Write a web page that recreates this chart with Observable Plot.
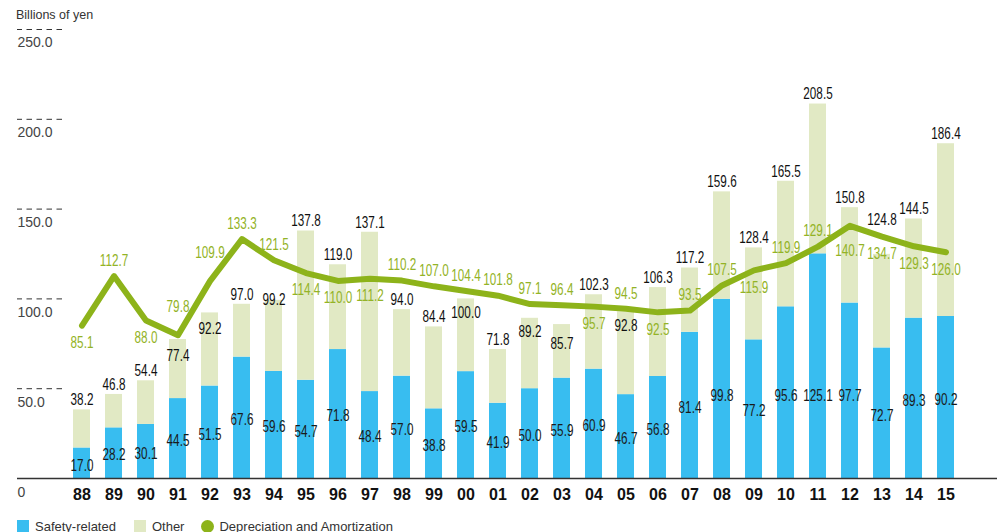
<!DOCTYPE html>
<html><head><meta charset="utf-8">
<script src="https://cdn.jsdelivr.net/npm/d3@7"></script>
<script src="https://cdn.jsdelivr.net/npm/@observablehq/plot@0.6"></script>
<style>
body{margin:0;background:#fff;font-family:"Liberation Sans",Arial,sans-serif;}
#title{height:28px;line-height:30px;padding-left:16px;font-size:12.5px;color:#333;}
#chart svg{display:block;}
#legend{display:flex;align-items:center;margin-top:3px;height:18px;font-size:13px;color:#333;padding-left:17px;white-space:nowrap;}
#legend .sw{display:inline-block;width:12px;height:12px;margin-right:6px;}
#legend .dot{display:inline-block;width:13px;height:13px;border-radius:50%;margin-right:5px;}
</style></head>
<body>
<div id="title">Billions of yen</div>
<div id="chart"></div>
<div id="legend">
  <span class="sw" style="background:#38BDF0"></span><span style="margin-right:18px">Safety-related</span>
  <span class="sw" style="background:#E1E9C4"></span><span style="margin-right:17px">Other</span>
  <span class="dot" style="background:#8DB31A"></span><span>Depreciation and Amortization</span>
</div>
<script>
const years = ["88","89","90","91","92","93","94","95","96","97","98","99","00","01","02","03","04","05","06","07","08","09","10","11","12","13","14","15"];
const safety = [17.0,28.2,30.1,44.5,51.5,67.6,59.6,54.7,71.8,48.4,57.0,38.8,59.5,41.9,50.0,55.9,60.9,46.7,56.8,81.4,99.8,77.2,95.6,125.1,97.7,72.7,89.3,90.2];
const totals = [38.2,46.8,54.4,77.4,92.2,97.0,99.2,137.8,119.0,137.1,94.0,84.4,100.0,71.8,89.2,85.7,102.3,92.8,106.3,117.2,159.6,128.4,165.5,208.5,150.8,124.8,144.5,186.4];
const depreciation = [85.1,112.7,88.0,79.8,109.9,133.3,121.5,114.4,110.0,111.2,110.2,107.0,104.4,101.8,97.1,96.4,95.7,94.5,92.5,93.5,107.5,115.9,119.9,129.1,140.7,134.7,129.3,126.0];
const yTicks = [50,100,150,200,250];

// label placement (layout only)
const depLabelSide = ["b","a","b","A","A","a","a","b","b","b","a","a","a","a","a","a","b","a","b","a","a","b","a","a","B","b","b","b"];
const sideDy = {a:-15.5, A:-28, b:17, B:25};
const totalNudge = {"91":16,"92":16,"94":-1,"00":14,"02":13,"03":19,"05":14,"13":-35};

const BLUE = "#38BDF0", LIGHT = "#E1E9C4", GREEN = "#8DB31A", GTEXT = "#93B326";
const numFont = '"Liberation Sans",Arial,sans-serif';
const NUM_SIZE = 16.5;
const f1 = d3.format(".1f");

const stacked = [];
years.forEach((y,i)=>stacked.push({year:y, type:"Safety-related", value:safety[i]}));
years.forEach((y,i)=>stacked.push({year:y, type:"Other", value:+(totals[i]-safety[i]).toFixed(1)}));
const rows = years.map((y,i)=>({year:y, safety:safety[i], total:totals[i], dep:depreciation[i], side:depLabelSide[i]}));

const marks = [
  Plot.barY(stacked, {x:"year", y:"value", fill:"type", order:null}),
  Plot.ruleY([0], {stroke:"#333", strokeWidth:1.5}),
  Plot.axisY({ticks:yTicks, tickSize:45, tickFormat:()=>"", stroke:"#333", strokeDasharray:"5.5,4.5", label:null}),
  Plot.axisY({ticks:[0], tickSize:45, tickFormat:()=>"", stroke:"#333", strokeWidth:1.5, label:null}),
  Plot.axisY({ticks:yTicks, tickSize:0, tickPadding:45, textAnchor:"start", dy:13.5, tickFormat:f1, fontSize:14, fill:"#444", label:null}),
  Plot.axisY({ticks:[0], tickSize:0, tickPadding:45, textAnchor:"start", dy:14.5, tickFormat:()=>"0", fontSize:14, fill:"#444", label:null}),
  Plot.axisX({tickSize:0, tickPadding:10, fontSize:16, fontWeight:"bold", fill:"#111", label:null}),
  Plot.line(rows, {x:"year", y:"dep", stroke:GREEN, strokeWidth:6, strokeLinejoin:"round", strokeLinecap:"round"}),
  Plot.text(rows, {x:"year", y:d=>Math.min(d.safety/2, 47), text:d=>f1(d.safety), dy:2, fontSize:NUM_SIZE, fill:"#1a1a1a", fontFamily:numFont}),
];
const groups = d3.group(rows, d => totalNudge[d.year] ?? -10);
for (const [dy, data] of groups) marks.push(Plot.text(data, {x:"year", y:"total", text:d=>f1(d.total), dy, fontSize:NUM_SIZE, fill:"#111", fontFamily:numFont}));
for (const s of Object.keys(sideDy)) {
  const data = rows.filter(d=>d.side===s);
  marks.push(Plot.text(data, {x:"year", y:"dep", text:d=>f1(d.dep), dy:sideDy[s], fontSize:NUM_SIZE, fill:GTEXT, fontFamily:numFont}));
}

const chart = Plot.plot({
  width: 997, height: 486,
  marginTop: 1, marginBottom: 36, marginLeft: 62, marginRight: 0,
  style: {fontFamily: '"Liberation Sans",Arial,sans-serif', background:"#fff"},
  x: {type:"band", domain: years, range:[62, 964.5], paddingInner:0.47, paddingOuter:0.25, axis:null},
  y: {domain:[0,250], axis:null},
  color: {domain:["Safety-related","Other"], range:[BLUE, LIGHT]},
  marks
});
document.getElementById("chart").append(chart);

// condense the value labels horizontally (narrow numerals as in the original)
const SX = 0.71;
chart.querySelectorAll('g[aria-label="text"] text').forEach(t => {
  const tr = t.getAttribute("transform");
  if (tr) t.setAttribute("transform", tr + ` scale(${SX},1)`);
  else {
    const x = +t.getAttribute("x") || 0;
    t.setAttribute("transform", `translate(${x},0) scale(${SX},1) translate(${-x},0)`);
  }
});
</script>
</body></html>
